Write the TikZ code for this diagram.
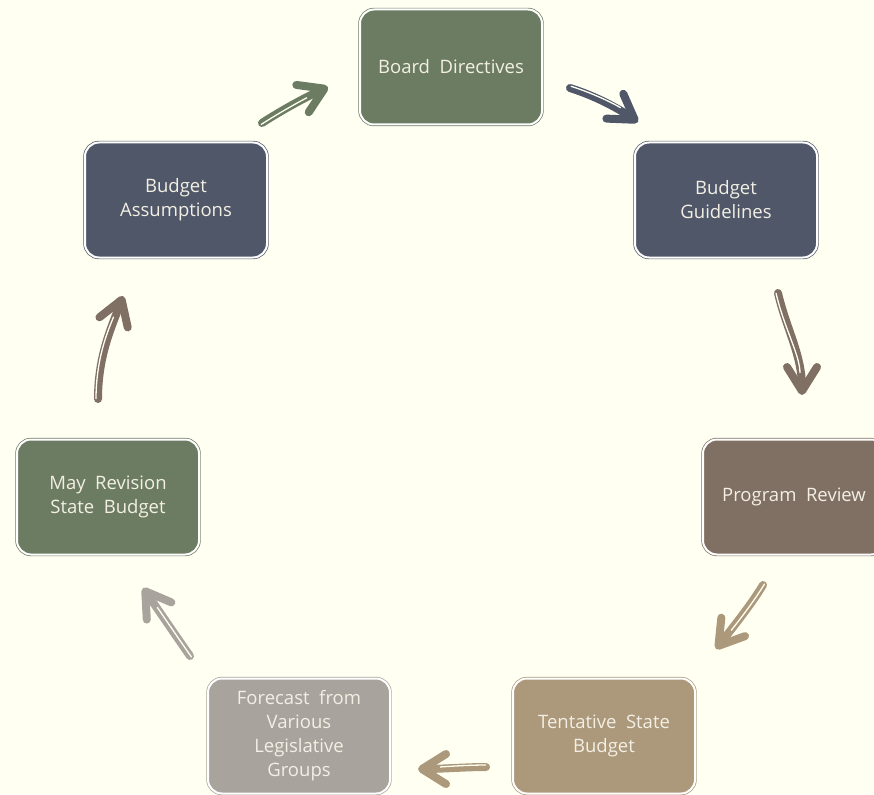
\documentclass[tikz,border=0pt]{standalone}
\usepackage{fontspec}
\setmainfont{Open Sans}
\usetikzlibrary{arrows.meta,calc}
\definecolor{bg}{HTML}{FFFFF2}
\definecolor{cgreen}{HTML}{6C7C62}
\definecolor{cslate}{HTML}{4F5768}
\definecolor{cbrown}{HTML}{807063}
\definecolor{ctan}{HTML}{AC987A}
\definecolor{cgray}{HTML}{A8A39C}
\definecolor{txt}{HTML}{F3EFE4}
\begin{document}
\begin{tikzpicture}[x=1pt,y=-1pt,
  box/.style={rectangle, rounded corners=14pt, minimum width=182pt, minimum height=115pt,
    draw=#1, fill=#1, double=white, double distance=2pt, line width=0.7pt,
    text=txt, font=\fontsize{18.5}{24}\selectfont, align=center, inner sep=0pt},
  arr/.style={draw=#1, line width=8pt, line cap=round,
    -{Straight Barb[round,length=24pt,width=30pt,line width=8pt]}},
  gapline/.style={draw=bg, line width=1.3pt, shorten >=22pt}]
\useasboundingbox[fill=bg] (0,0) rectangle (874,794);

\node[box=cgreen] (bd) at (451,67) {Board\ \ Directives};
\node[box=cslate] (bg) at (726,200) {Budget\\Guidelines};
\node[box=cbrown] (pr) at (794,497) {Program\ \ Review};
\node[box=ctan]   (ts) at (604,736) {Tentative\ \ State\\Budget};
\node[box=cgray]  (fc) at (299,736) {Forecast\ \ from\\Various\\Legislative\\Groups};
\node[box=cgreen] (mr) at (108,497) {May\ \ Revision\\State\ \ Budget};
\node[box=cslate] (ba) at (176,200) {Budget\\Assumptions};

\coordinate (s1) at (262,123); \coordinate (e1) at (328,87);
\coordinate (s2) at (570,88);  \coordinate (e2) at (638,122);
\coordinate (s3) at (778,293); \coordinate (e3) at (802,395);
\coordinate (s4) at (763,585); \coordinate (e4) at (716,649);
\coordinate (s5) at (486,767); \coordinate (e5) at (418,769);
\coordinate (s6) at (190,656); \coordinate (e6) at (143,588);
\coordinate (s7) at (98,399);  \coordinate (e7) at (123,296);

% Budget Assumptions -> Board Directives
\draw[arr=cgreen] (s1) .. controls ($(s1)+(20,-13)$) and ($(e1)+(-22,10)$) .. (e1);
\draw[gapline, transform canvas={shift={(-1pt,-1.6pt)}}] (s1) .. controls ($(s1)+(20,-13)$) and ($(e1)+(-22,10)$) .. (e1);
% Board Directives -> Budget Guidelines
\draw[arr=cslate] (s2) .. controls ($(s2)+(25,8)$) and ($(e2)+(-22,-15)$) .. (e2);
\draw[gapline, transform canvas={shift={(0.8pt,1.8pt)}}] (s2) .. controls ($(s2)+(25,8)$) and ($(e2)+(-22,-15)$) .. (e2);
% Budget Guidelines -> Program Review
\draw[arr=cbrown] (s3) .. controls ($(s3)+(8,35)$) and ($(e3)+(0,-40)$) .. (e3);
\draw[gapline, transform canvas={xshift=-2pt}] (s3) .. controls ($(s3)+(8,35)$) and ($(e3)+(0,-40)$) .. (e3);
% Program Review -> Tentative State Budget
\draw[arr=ctan] (s4) .. controls ($(s4)+(-12,20)$) and ($(e4)+(14,-18)$) .. (e4);
\draw[gapline, transform canvas={shift={(1.6pt,1.2pt)}}] (s4) .. controls ($(s4)+(-12,20)$) and ($(e4)+(14,-18)$) .. (e4);
% Tentative State Budget -> Forecast
\draw[arr=ctan] (s5) .. controls ($(s5)+(-20,0)$) and ($(e5)+(22,0)$) .. (e5);
\draw[gapline, transform canvas={yshift=2pt}] (s5) .. controls ($(s5)+(-20,0)$) and ($(e5)+(22,0)$) .. (e5);
% Forecast -> May Revision
\draw[arr=cgray] (s6) .. controls ($(s6)+(-14,-20)$) and ($(e6)+(14,20)$) .. (e6);
\draw[gapline, transform canvas={shift={(1.6pt,-1.2pt)}}] (s6) .. controls ($(s6)+(-14,-20)$) and ($(e6)+(14,20)$) .. (e6);
% May Revision -> Budget Assumptions
\draw[arr=cbrown] (s7) .. controls ($(s7)+(0,-45)$) and ($(e7)+(-10,28)$) .. (e7);
\draw[gapline, transform canvas={xshift=-2pt}] (s7) .. controls ($(s7)+(0,-45)$) and ($(e7)+(-10,28)$) .. (e7);
\end{tikzpicture}
\end{document}
